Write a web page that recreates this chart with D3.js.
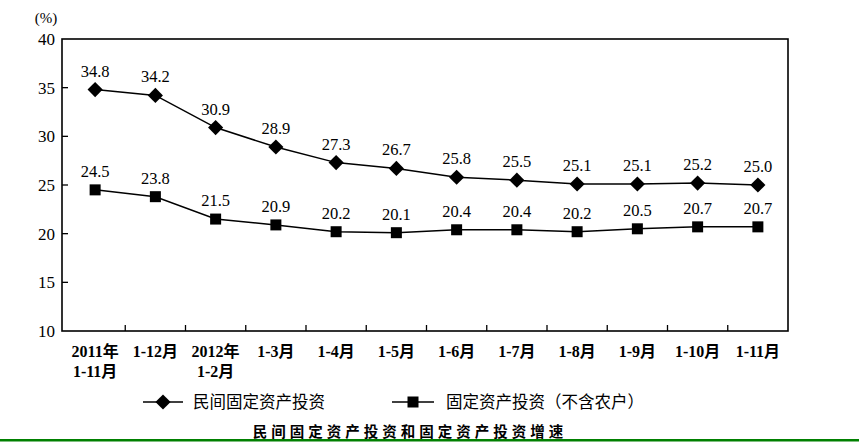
<!DOCTYPE html>
<html><head><meta charset="utf-8">
<script src="https://cdn.jsdelivr.net/npm/d3@7/dist/d3.min.js"></script>
<style>body{margin:0;background:#fff;}svg{display:block;}</style>
</head><body>
<script>
const categories = ["2011年\n1-11月","1-12月","2012年\n1-2月","1-3月","1-4月","1-5月","1-6月","1-7月","1-8月","1-9月","1-10月","1-11月"];
const privateInv = [34.8,34.2,30.9,28.9,27.3,26.7,25.8,25.5,25.1,25.1,25.2,25.0];
const totalInv   = [24.5,23.8,21.5,20.9,20.2,20.1,20.4,20.4,20.2,20.5,20.7,20.7];
const yTicks = [10,15,20,25,30,35,40];
const seriesNames = ["民间固定资产投资","固定资产投资（不含农户）"];
const title = "民间固定资产投资和固定资产投资增速";

const W=859,H=443;
const svg=d3.select("body").append("svg").attr("width",W).attr("height",H);
const L=62,R=788,T=39,B=331;
const x=d3.scaleBand().domain(categories).range([65,R]);
const y=d3.scaleLinear().domain([10,40]).range([B,T]);
const serif="'Liberation Serif','Times New Roman',serif";
const cjk="'Noto Sans CJK SC',sans-serif";

// frame
svg.append("rect").attr("x",L).attr("y",T).attr("width",R-L).attr("height",B-T)
 .attr("fill","none").attr("stroke","#000").attr("stroke-width",1.6);

// y ticks
yTicks.forEach(v=>{
  if(v>10 && v<40) svg.append("line").attr("x1",L).attr("x2",L+6).attr("y1",y(v)).attr("y2",y(v)).attr("stroke","#000").attr("stroke-width",1.3);
  svg.append("text").attr("x",L-7).attr("y",y(v)).attr("dy","0.35em").attr("text-anchor","end")
    .attr("font-family",serif).attr("font-size",17).text(v);
});
svg.append("text").attr("x",46).attr("y",23).attr("text-anchor","middle").attr("font-family",serif).attr("font-size",15).text("(%)");

// x ticks at band boundaries
categories.slice(1).forEach(c=>{
  const xx=x(c);
  svg.append("line").attr("x1",xx).attr("x2",xx).attr("y1",B).attr("y2",B-6).attr("stroke","#000").attr("stroke-width",1.3);
});
categories.forEach(c=>{
  const cx=x(c)+x.bandwidth()/2;
  const lines=c.split("\n");
  const t=svg.append("text").attr("text-anchor","middle").attr("font-family",serif+","+cjk).attr("font-size",16).attr("font-weight","bold");
  lines.forEach((ln,i)=>{
    t.append("tspan").attr("x",cx).attr("y",357+i*20).text(ln);
  });
});

const cx=d=>x(d)+x.bandwidth()/2;
const line=d3.line().x((d,i)=>cx(categories[i])).y(d=>y(d));

// series
[privateInv,totalInv].forEach((data,si)=>{
  svg.append("path").datum(data).attr("d",line).attr("fill","none").attr("stroke","#000").attr("stroke-width",1.5);
  data.forEach((v,i)=>{
    const px=cx(categories[i]),py=y(v);
    if(si===0){
      svg.append("path").attr("d",d3.symbol(d3.symbolSquare,115)()).attr("transform",`translate(${px},${py}) rotate(45)`).attr("fill","#000");
    } else {
      svg.append("rect").attr("x",px-5.5).attr("y",py-5.5).attr("width",11).attr("height",11).attr("fill","#000");
    }
    svg.append("text").attr("x",px).attr("y",py-13).attr("text-anchor","middle").attr("font-family",serif).attr("font-size",16.5).text(v.toFixed(1));
  });
});

// legend
const lg=svg.append("g");
lg.append("line").attr("x1",143).attr("x2",183).attr("y1",402).attr("y2",402).attr("stroke","#000").attr("stroke-width",1.5);
lg.append("path").attr("d",d3.symbol(d3.symbolSquare,115)()).attr("transform","translate(163,402) rotate(45)").attr("fill","#000");
lg.append("text").attr("x",193).attr("y",402).attr("dy","0.35em").attr("font-family",cjk).attr("font-size",16.5).text(seriesNames[0]);
lg.append("line").attr("x1",392).attr("x2",434).attr("y1",402).attr("y2",402).attr("stroke","#000").attr("stroke-width",1.5);
lg.append("rect").attr("x",407.5).attr("y",396.5).attr("width",11).attr("height",11).attr("fill","#000");
lg.append("text").attr("x",446).attr("y",402).attr("dy","0.35em").attr("font-family",cjk).attr("font-size",16.5).text(seriesNames[1]);

// title
svg.append("text").attr("x",410).attr("y",432).attr("dy","0.35em").attr("text-anchor","middle").attr("font-family",cjk).attr("font-size",14.5).attr("font-weight","bold").attr("letter-spacing",4).text(title);

// bottom green line
svg.append("rect").attr("x",0).attr("y",439).attr("width",859).attr("height",2.5).attr("fill","#008000");
</script>
</body></html>
